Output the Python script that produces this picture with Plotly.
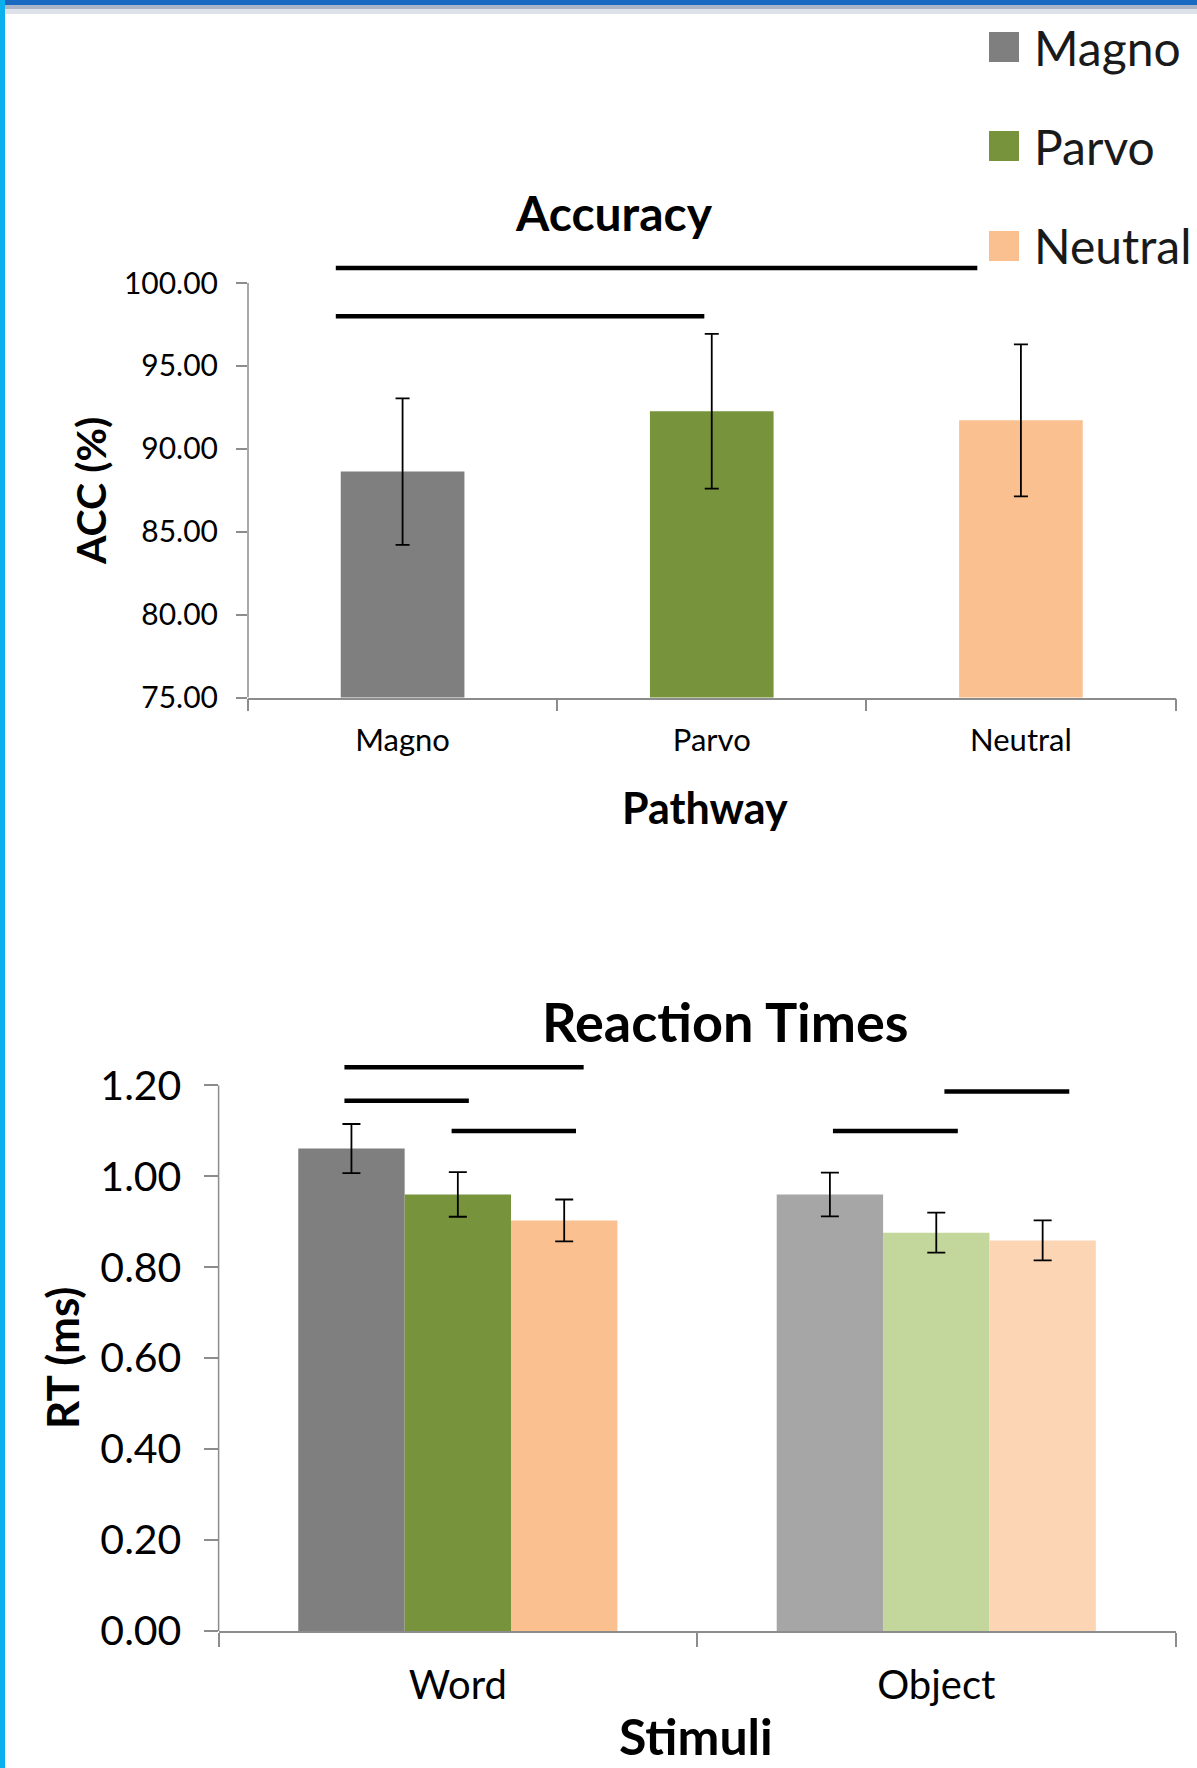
import plotly.graph_objects as go

# ---------------- data ----------------
pathways = ["Magno", "Parvo", "Neutral"]
acc_values = [88.63, 92.27, 91.72]
acc_errors = [4.42, 4.67, 4.58]
acc_colors = ["#7F7F7F", "#77933C", "#FAC090"]

stimuli = ["Word", "Object"]
rt_magno = [1.061, 0.960]
rt_parvo = [0.960, 0.876]
rt_neutral = [0.903, 0.859]
rt_magno_err = [0.054, 0.048]
rt_parvo_err = [0.049, 0.044]
rt_neutral_err = [0.046, 0.044]
rt_magno_colors = ["#7F7F7F", "#A6A6A6"]
rt_parvo_colors = ["#77933C", "#C3D69B"]
rt_neutral_colors = ["#FAC090", "#FCD5B5"]

acc_ticks = [75, 80, 85, 90, 95, 100]
rt_ticks = [0.0, 0.2, 0.4, 0.6, 0.8, 1.0, 1.2]

# significance brackets: (x start, x end, y level) in axis units
acc_sig = [(-0.216, 1.859, 100.9), (-0.216, 0.976, 98.0)]
rt_sig = [(-0.237, 0.263, 1.2396), (-0.237, 0.023, 1.166), (-0.013, 0.247, 1.0996),
          (1.017, 1.278, 1.1868), (0.784, 1.045, 1.0996)]

W, H = 1197, 1768
FONT = "Lato"
AX_GREY = "#8C8C8C"


def py(p):  # pixel from top -> paper y
    return 1 - p / H


def px(p):
    return p / W


fig = go.Figure()

fig.add_trace(go.Bar(
    x=pathways, y=acc_values, width=0.4,
    marker=dict(color=acc_colors, line=dict(width=0)),
    error_y=dict(type="data", array=acc_errors, color="black", thickness=1.8, width=7),
    xaxis="x", yaxis="y", showlegend=False,
))

for name, vals, errs, cols in [("Magno", rt_magno, rt_magno_err, rt_magno_colors),
                               ("Parvo", rt_parvo, rt_parvo_err, rt_parvo_colors),
                               ("Neutral", rt_neutral, rt_neutral_err, rt_neutral_colors)]:
    fig.add_trace(go.Bar(
        x=stimuli, y=vals, name=name,
        marker=dict(color=cols, line=dict(width=0)),
        error_y=dict(type="data", array=errs, color="black", thickness=1.8, width=9),
        xaxis="x2", yaxis="y2", showlegend=False,
    ))

shapes = []
# frame decoration
shapes.append(dict(type="rect", xref="paper", yref="paper", x0=0, x1=1, y0=py(14), y1=py(5),
                   fillcolor="#DDE2EA", line=dict(width=0), layer="above"))
shapes.append(dict(type="rect", xref="paper", yref="paper", x0=0, x1=1, y0=py(9), y1=py(5),
                   fillcolor="#A9B4C6", line=dict(width=0), layer="above"))
shapes.append(dict(type="rect", xref="paper", yref="paper", x0=0, x1=1, y0=py(5), y1=1,
                   fillcolor="#1769C2", line=dict(width=0), layer="above"))
shapes.append(dict(type="rect", xref="paper", yref="paper", x0=0, x1=px(5), y0=0, y1=1,
                   fillcolor="#0AB0EE", line=dict(width=0), layer="above"))

# y axis lines (end at top tick)
shapes.append(dict(type="line", xref="x domain", yref="y", x0=0, x1=0, y0=75, y1=100,
                   line=dict(color=AX_GREY, width=1.5)))
shapes.append(dict(type="line", xref="x2 domain", yref="y2", x0=0, x1=0, y0=0, y1=1.2,
                   line=dict(color=AX_GREY, width=1.5)))

for x0, x1, yv in acc_sig:
    shapes.append(dict(type="line", xref="x", yref="y", x0=x0, x1=x1, y0=yv, y1=yv,
                       line=dict(color="black", width=4.5)))
for x0, x1, yv in rt_sig:
    shapes.append(dict(type="line", xref="x2", yref="y2", x0=x0, x1=x1, y0=yv, y1=yv,
                       line=dict(color="black", width=4.5)))

# legend (manual, large swatches)
legend_items = [("Magno", "#7F7F7F", 47), ("Parvo", "#77933C", 146), ("Neutral", "#FAC090", 246)]
annotations = []
for label, col, cy in legend_items:
    shapes.append(dict(type="rect", xref="paper", yref="paper",
                       x0=px(989), x1=px(1019), y0=py(cy + 15), y1=py(cy - 15),
                       fillcolor=col, line=dict(width=0)))
    annotations.append(dict(text=label, xref="paper", yref="paper", x=px(1032), y=py(cy),
                            xanchor="left", yanchor="middle", showarrow=False,
                            font=dict(family=FONT, size=48, color="#1a1a1a")))


def ann(text, x, y, size, angle=0):
    annotations.append(dict(text=text, xref="paper", yref="paper", x=px(x), y=py(y),
                            xanchor="center", yanchor="middle", showarrow=False, textangle=angle,
                            font=dict(family=FONT, size=size, color="black", weight="bold")))


ann("Accuracy", 614, 212, 48)
ann("Pathway", 705, 808, 43)
ann("ACC (%)", 90, 491, 41, -90)
ann("Reaction Times", 725, 1022, 54)
ann("Stimuli", 696, 1736, 50)
ann("RT (ms)", 62, 1358, 44, -90)

fig.update_layout(
    width=W, height=H,
    margin=dict(l=0, r=0, t=0, b=0, autoexpand=False),
    paper_bgcolor="white", plot_bgcolor="white",
    barmode="group", bargap=0.333, bargroupgap=0,
    shapes=shapes, annotations=annotations,
    showlegend=False,
    xaxis=dict(domain=[px(248), px(1175.5)], anchor="y", type="category", range=[-0.5, 2.5],
               automargin=False,
               showline=True, linecolor=AX_GREY, linewidth=1.5, ticks="outside",
               tickson="boundaries", ticklen=12, tickcolor=AX_GREY, tickwidth=1.5,
               showgrid=False, zeroline=False, ticklabelstandoff=14,
               tickfont=dict(family=FONT, size=31, color="black")),
    yaxis=dict(domain=[py(697.6), py(256.5)], anchor="x", range=[75, 101.6],
               automargin=False,
               tickvals=acc_ticks, tickformat=".2f", ticks="outside", ticklen=11,
               tickcolor=AX_GREY, tickwidth=1.5, showline=False, showgrid=False,
               zeroline=False, ticklabelstandoff=12,
               tickfont=dict(family=FONT, size=30, color="black")),
    xaxis2=dict(domain=[px(218.6), px(1175.5)], anchor="y2", type="category", range=[-0.5, 1.5],
                automargin=False,
                showline=True, linecolor=AX_GREY, linewidth=1.5, ticks="outside",
                tickson="boundaries", ticklen=14, tickcolor=AX_GREY, tickwidth=1.5,
                showgrid=False, zeroline=False, ticklabelstandoff=18,
                tickfont=dict(family=FONT, size=40, color="black")),
    yaxis2=dict(domain=[py(1630.9), py(1058.1)], anchor="x2", range=[0, 1.26],
                automargin=False,
                tickvals=rt_ticks, tickformat=".2f", ticks="outside", ticklen=14,
                tickcolor=AX_GREY, tickwidth=1.5, showline=False, showgrid=False,
                zeroline=False, ticklabelstandoff=14,
                tickfont=dict(family=FONT, size=41, color="black")),
)

fig.write_html(
    "out.html",
    config={"displayModeBar": False},
    post_script="document.body.style.margin='0';document.body.style.overflow='hidden';",
)
